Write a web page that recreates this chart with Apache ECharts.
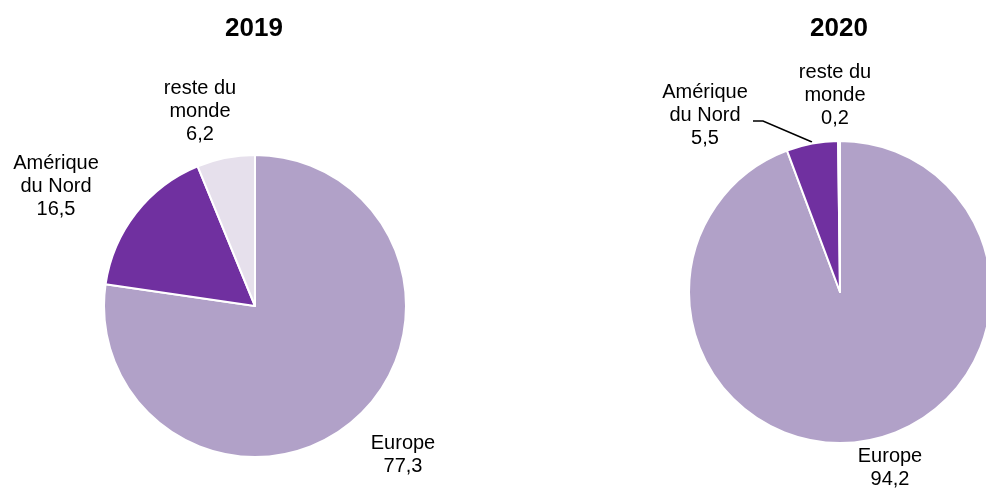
<!DOCTYPE html>
<html>
<head>
<meta charset="utf-8">
<script src="https://cdn.jsdelivr.net/npm/echarts@6/dist/echarts.min.js"></script>
<style>
  html, body { margin: 0; padding: 0; background: #fff; }
  #chart { width: 986px; height: 490px; }
</style>
</head>
<body>
<div id="chart"></div>
<script>
const regions = ['Europe', 'Amérique\ndu Nord', 'reste du\nmonde']
const years = ['2019', '2020']
const values2019 = [77.3, 16.5, 6.2]
const values2020 = [94.2, 5.5, 0.2]
const colors = ['#b1a1c8', '#7030a0', '#e6e0ec']

// label anchor points (text centre) per year, per region
const labelPos = [
  [[403, 455], [56, 186], [200, 111]],
  [[890, 468], [705, 115], [835, 95]]
]

const chart = echarts.init(document.getElementById('chart'))

function makeSeries(values, idx, center) {
  return {
    type: 'pie',
    center: center,
    radius: 151,
    startAngle: 90,
    clockwise: true,
    silent: true,
    itemStyle: { borderColor: '#fff', borderWidth: 2 },
    label: {
      show: true,
      position: 'outside',
      overflow: 'none',
      bleedMargin: 0,
      edgeDistance: 0,
      formatter: p => p.name + '\n' + String(p.value).replace('.', ','),
      fontFamily: 'Liberation Sans, Arial, sans-serif',
      fontSize: 20,
      lineHeight: 23,
      color: '#000',
      align: 'center'
    },
    labelLine: { show: false },
    labelLayout: function (params) {
      const p = labelPos[idx][params.dataIndex]
      const out = { x: p[0], y: p[1], align: 'center', verticalAlign: 'middle' }
      if (idx === 1 && params.dataIndex === 1) {
        out.labelLinePoints = [[812, 142], [763, 121], [753, 121]]
      }
      return out
    },
    data: values.map((v, i) => ({
      name: regions[i],
      value: v,
      itemStyle: { color: colors[i] },
      labelLine: (idx === 1 && i === 1)
        ? { show: true, lineStyle: { color: '#000', width: 1.5 } }
        : { show: false }
    }))
  }
}

const titleStyle = { fontFamily: 'Liberation Sans, Arial, sans-serif', fontSize: 26, fontWeight: 'bold', color: '#000' }

chart.setOption({
  animation: false,
  title: [
    { text: years[0], left: 249, top: 11, textAlign: 'center', textStyle: titleStyle },
    { text: years[1], left: 834, top: 11, textAlign: 'center', textStyle: titleStyle }
  ],
  series: [
    makeSeries(values2019, 0, [255, 306]),
    makeSeries(values2020, 1, [840, 292])
  ]
})
</script>
</body>
</html>
